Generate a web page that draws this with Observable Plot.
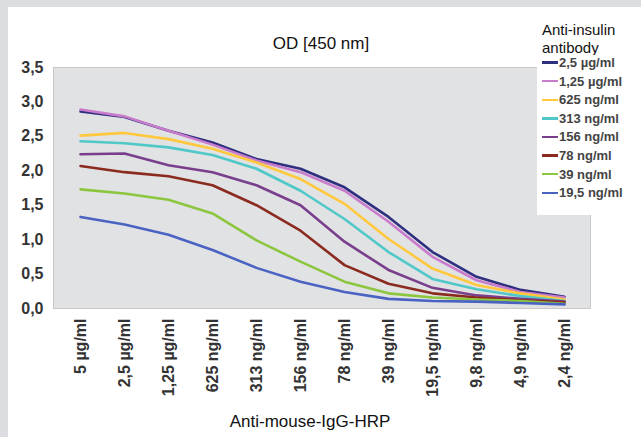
<!DOCTYPE html>
<html>
<head>
<meta charset="utf-8">
<script src="https://cdn.jsdelivr.net/npm/d3@7"></script>
<script src="https://cdn.jsdelivr.net/npm/@observablehq/plot@0.6"></script>
<style>
  html, body { margin: 0; padding: 0; background: #fff; }
  #outer { position: relative; width: 641px; height: 437px; background: #dcdde1; overflow: hidden;
           font-family: "Liberation Sans", Arial, sans-serif; }
  #panel { position: absolute; left: 8px; top: 7px; width: 633px; height: 430px; background: #fff; }
  #title { position: absolute; left: 221px; width: 200px; top: 34px; text-align: center; font-size: 17px; color: #111; }
  #xtitle { position: absolute; left: 180px; width: 260px; top: 412px; text-align: center; font-size: 17px; color: #111; }
  #legtitle { position: absolute; left: 542px; top: 21px; font-size: 15px; line-height: 18px; color: #111; }
  #legend { position: absolute; left: 537px; top: 55px; width: 104px; height: 160px; background: #fff; }
  .item { position: absolute; left: 5px; height: 18px; font-size: 13px; font-weight: bold; color: #444; white-space: nowrap; }
  .sw { display: inline-block; width: 16px; height: 2.5px; vertical-align: middle; margin-right: 1px; position: relative; top: -1px; }
  svg text { fill: #333; }
</style>
</head>
<body>
<div id="outer">
  <div id="panel"></div>
  <div id="title">OD [450 nm]</div>
  <div id="xtitle">Anti-mouse-IgG-HRP</div>
  <div id="legtitle">Anti-insulin<br>antibody</div>
  <div id="legend"></div>
</div>
<script>
// Categories (x axis: anti-mouse-IgG-HRP dilution)
const categories = ["5 µg/ml", "2,5 µg/ml", "1,25 µg/ml", "625 ng/ml", "313 ng/ml", "156 ng/ml",
                    "78 ng/ml", "39 ng/ml", "19,5 ng/ml", "9,8 ng/ml", "4,9 ng/ml", "2,4 ng/ml"];
// Series names (anti-insulin antibody)
const seriesNames = ["2,5 µg/ml", "1,25 µg/ml", "625 ng/ml", "313 ng/ml", "156 ng/ml", "78 ng/ml", "39 ng/ml", "19,5 ng/ml"];
const seriesColors = ["#2f2f80", "#c97ccb", "#ffc83d", "#50c8c8", "#7a3f8c", "#8b2a1f", "#8cc63f", "#4a63c2"];
// OD values per series
const s_2_5ug  = [2.86, 2.78, 2.58, 2.41, 2.17, 2.03, 1.76, 1.33, 0.82, 0.46, 0.27, 0.17];
const s_1_25ug = [2.89, 2.79, 2.58, 2.38, 2.15, 1.98, 1.71, 1.26, 0.75, 0.41, 0.24, 0.16];
const s_625ng  = [2.51, 2.55, 2.46, 2.32, 2.12, 1.88, 1.52, 1.01, 0.58, 0.34, 0.22, 0.13];
const s_313ng  = [2.43, 2.40, 2.34, 2.23, 2.03, 1.71, 1.30, 0.82, 0.43, 0.28, 0.18, 0.11];
const s_156ng  = [2.24, 2.25, 2.08, 1.98, 1.79, 1.50, 0.97, 0.56, 0.30, 0.19, 0.14, 0.10];
const s_78ng   = [2.07, 1.98, 1.92, 1.79, 1.50, 1.13, 0.63, 0.36, 0.22, 0.16, 0.12, 0.09];
const s_39ng   = [1.73, 1.67, 1.58, 1.38, 0.99, 0.68, 0.39, 0.22, 0.16, 0.13, 0.11, 0.07];
const s_19_5ng = [1.33, 1.22, 1.07, 0.85, 0.59, 0.39, 0.24, 0.14, 0.11, 0.10, 0.08, 0.06];
const yTicks = [0, 0.5, 1, 1.5, 2, 2.5, 3, 3.5];

const seriesValues = [s_2_5ug, s_1_25ug, s_625ng, s_313ng, s_156ng, s_78ng, s_39ng, s_19_5ng];
const rows = [];
seriesNames.forEach((name, i) => {
  seriesValues[i].forEach((v, j) => rows.push({series: name, cat: categories[j], od: v}));
});

const chart = Plot.plot({
  width: 633,
  height: 430,
  marginLeft: 45,
  marginRight: 51,
  marginTop: 60,
  marginBottom: 129,
  style: {fontFamily: "'Liberation Sans', Arial, sans-serif", fontSize: "16px", fontWeight: "bold", background: "transparent", overflow: "visible"},
  x: {type: "point", domain: categories, padding: 0.5, label: null},
  y: {domain: [0, 3.5], label: null},
  color: {domain: seriesNames, range: seriesColors},
  marks: [
    Plot.frame({fill: "#e1e2e4", stroke: "#c9c9c9", strokeWidth: 1}),
    Plot.axisY({ticks: yTicks, tickFormat: d => d.toFixed(1).replace(".", ","), tickSize: 0, tickPadding: 10, label: null, fontSize: 16, fontWeight: "bold"}),
    Plot.axisX({tickRotate: -90, tickSize: 0, tickPadding: 10, label: null, fontSize: 16, fontWeight: "bold"}),
    Plot.line(rows, {x: "cat", y: "od", z: "series", stroke: "series", strokeWidth: 2.6, curve: "linear"})
  ]
});
document.getElementById("panel").appendChild(chart);

const leg = document.getElementById("legend");
seriesNames.forEach((name, i) => {
  const d = document.createElement("div");
  d.className = "item";
  d.style.top = (0 + i * 18.6) + "px";
  d.innerHTML = `<span class="sw" style="background:${seriesColors[i]}"></span>${name}`;
  leg.appendChild(d);
});
</script>
</body>
</html>
